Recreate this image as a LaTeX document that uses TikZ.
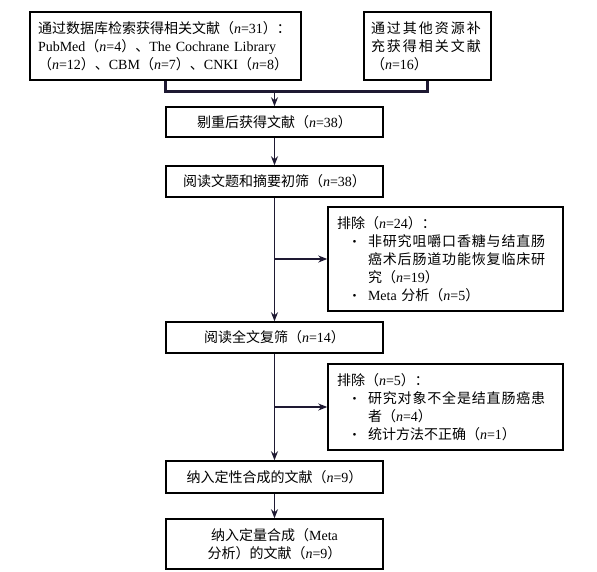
\documentclass[tikz,border=0pt]{standalone}
\usepackage{fontspec}
\setmainfont{Liberation Serif}
\newfontfamily\cjk{Noto Sans CJK SC}
\newfontfamily\cjkw[LetterSpace=6]{Noto Sans CJK SC}
\newfontfamily\cjkb[LetterSpace=14]{Noto Sans CJK SC}
\usetikzlibrary{arrows.meta}
\definecolor{linec}{RGB}{30,25,50}
\newcommand\zh[1]{{\cjk #1}}
\newcommand\zhw[1]{{\cjkw #1}}
\newcommand\zhb[1]{{\cjkb #1}}
\newcommand\nv[1]{\textit{n}=#1}
\newcommand\bul{\raisebox{0.2ex}{\scalebox{0.8}{•}}}
\newcommand\itm{\hspace*{15.5pt}\makebox[15.5pt][l]{\bul}}
\newcommand\ind{\hspace*{31pt}}
\begin{document}
\begin{tikzpicture}[x=1pt,y=-1pt,
 box/.style={draw=black, line width=1.5pt, inner ysep=0pt, font=\fontsize{14}{18}\selectfont},
 cbox/.style={box, minimum width=217pt, align=center},
 ebox/.style={box, minimum width=235pt, text width=217pt, inner xsep=9pt, align=left},
 conn/.style={draw=linec, line width=1.2pt},
 arr/.style={conn, -{Stealth[length=9pt,width=7pt]}},
 thickconn/.style={line width=2.2pt}
]
\useasboundingbox (0,0) rectangle (597,571);

\node[box, minimum width=271pt, minimum height=68pt, text width=255pt, inner xsep=8pt, align=left] (b1) at (165.5,46)
 {\zh{通过数据库检索获得相关文献（}\nv{31}\zh{）：}\\PubMed\zh{（}\nv{4}\zh{）、}The Cochrane Library\\\zh{（}\nv{12}\zh{）、}CBM\zh{（}\nv{7}\zh{）、}CNKI\zh{（}\nv{8}\zh{）}};

\node[box, minimum width=127pt, minimum height=68pt, text width=113pt, inner xsep=7pt, align=left] (b2) at (427.5,46)
 {\zhb{通过其他资源补}\\\zhb{充获得相关文献}\\\zh{（}\nv{16}\zh{）}};

\node[cbox, minimum height=30pt] (b3) at (274.5,122) {\zh{剔重后获得文献（}\nv{38}\zh{）}};
\node[cbox, minimum height=31pt] (b4) at (274.5,181.5) {\zh{阅读文题和摘要初筛（}\nv{38}\zh{）}};

\node[ebox, minimum height=104pt] (e1) at (445.5,259)
 {\zh{排除（}\nv{24}\zh{）：}\\
  \itm\zhw{非研究咀嚼口香糖与结直肠}\\
  \ind\zhw{癌术后肠道功能恢复临床研}\\
  \ind\zh{究（}\nv{19}\zh{）}\\
  \itm Meta \zh{分析（}\nv{5}\zh{）}};

\node[cbox, minimum height=31pt] (b6) at (274.5,337.5) {\zh{阅读全文复筛（}\nv{14}\zh{）}};

\node[ebox, minimum height=86pt] (e2) at (445.5,407)
 {\zh{排除（}\nv{5}\zh{）：}\\
  \itm\zhw{研究对象不全是结直肠癌患}\\
  \ind\zh{者（}\nv{4}\zh{）}\\
  \itm\zh{统计方法不正确（}\nv{1}\zh{）}};

\node[cbox, minimum height=32pt] (b8) at (274.5,477) {\zh{纳入定性合成的文献（}\nv{9}\zh{）}};
\node[cbox, minimum height=50pt] (b9) at (274.5,544) {\zh{纳入定量合成（}Meta\\\zh{分析）的文献（}\nv{9}\zh{）}};

\coordinate (m) at (274.5,91.5);
\draw[conn, thickconn] (b1.south) |- (m) -| (b2.south);
\draw[arr] (m) -- (b3.north);
\draw[arr] (b3) -- (b4);
\draw[arr] (b4) -- (b6);
\draw[arr, thickconn] (b4.south |- e1.west) -- (e1.west);
\draw[arr] (b6) -- (b8);
\draw[arr] (b6.south |- e2.west) -- (e2.west);
\draw[arr] (b8) -- (b9);
\end{tikzpicture}
\end{document}
